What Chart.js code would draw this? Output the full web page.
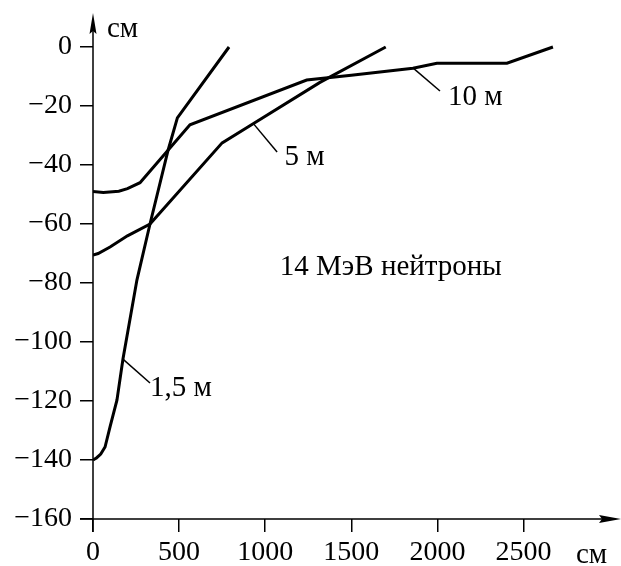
<!DOCTYPE html>
<html>
<head>
<meta charset="utf-8">
<script src="https://cdn.jsdelivr.net/npm/chart.js@4.4.1/dist/chart.umd.min.js"></script>
<style>
  body { margin: 0; background: #fff; }
  #wrap { width: 621px; height: 566px; position: relative; }
</style>
</head>
<body>
<div id="wrap"><canvas id="c"></canvas></div>
<script>
// глубина (см) в зависимости от расстояния (см)
const x15 = [0, 20, 45, 70, 100, 139, 174, 255, 331, 436, 490, 790];
const y15 = [-140, -139.3, -138, -135.6, -128.5, -119.7, -105.8, -79, -60, -35, -24, 0];

const x5 = [0, 30, 99, 200, 331, 750, 930, 1318, 1700];
const y5 = [-70.5, -70, -67.8, -64, -60, -32.5, -26, -12, 0];

const x10 = [0, 60, 150, 200, 273, 563, 1241, 1500, 1858, 1997, 2404, 2671];
const y10 = [-49, -49.3, -48.9, -48, -46, -26.4, -11.2, -9.6, -7.2, -5.5, -5.5, 0];

const xTicks = [0, 500, 1000, 1500, 2000, 2500];
const yTicks = [-160, -140, -120, -100, -80, -60, -40, -20, 0];

// подписи кривых: точка на кривой, конец выноски, место текста
const curveNotes = [
  { text: "1,5 м", from: [174, -105.8], to: [331, -113.9], at: [331, -118.2] },
  { text: "5 м", from: [929, -25.8], to: [1069, -35.6], at: [1112, -40.1] },
  { text: "10 м", from: [1858, -7.1], to: [2015, -14.9], at: [2062, -19.7] }
];
const caption = { text: "14 МэВ нейтроны", at: [1085, -77.3] };

const FONT = "29px 'Liberation Serif', 'Times New Roman', serif";
const TICK_FONT = { family: "'Liberation Serif', serif", size: 28 };

function pts(xs, ys) {
  return xs.map((x, i) => ({ x: x, y: ys[i] }));
}

function curve(xs, ys) {
  return {
    data: pts(xs, ys),
    borderColor: "#000",
    borderWidth: 3,
    pointRadius: 0,
    tension: 0,
    showLine: true,
    fill: false
  };
}

const overlay = {
  id: "overlay",
  afterDraw(chart) {
    const { ctx, chartArea: a, scales } = chart;
    const sx = scales.x, sy = scales.y;
    ctx.save();
    ctx.strokeStyle = "#000";
    ctx.fillStyle = "#000";
    ctx.lineWidth = 1.5;

    // оси со стрелками
    ctx.beginPath();
    ctx.moveTo(a.left, a.bottom + 13);
    ctx.lineTo(a.left, 30);
    ctx.moveTo(a.left - 13, a.bottom);
    ctx.lineTo(603, a.bottom);
    ctx.stroke();

    ctx.beginPath();
    ctx.moveTo(a.left, 13);
    ctx.lineTo(a.left - 3.5, 34);
    ctx.lineTo(a.left, 31);
    ctx.lineTo(a.left + 3.5, 34);
    ctx.closePath();
    ctx.fill();

    ctx.beginPath();
    ctx.moveTo(621, a.bottom);
    ctx.lineTo(599, a.bottom - 4);
    ctx.lineTo(602, a.bottom);
    ctx.lineTo(599, a.bottom + 4);
    ctx.closePath();
    ctx.fill();

    ctx.font = FONT;
    ctx.textBaseline = "alphabetic";
    ctx.textAlign = "left";
    ctx.fillText("см", 107, 37);
    ctx.fillText("см", 576, 563);

    // выноски
    ctx.lineWidth = 1.5;
    curveNotes.forEach(n => {
      ctx.beginPath();
      ctx.moveTo(sx.getPixelForValue(n.from[0]), sy.getPixelForValue(n.from[1]));
      ctx.lineTo(sx.getPixelForValue(n.to[0]), sy.getPixelForValue(n.to[1]));
      ctx.stroke();
      ctx.fillText(n.text, sx.getPixelForValue(n.at[0]), sy.getPixelForValue(n.at[1]));
    });
    ctx.fillText(caption.text, sx.getPixelForValue(caption.at[0]), sy.getPixelForValue(caption.at[1]));
    ctx.restore();
  }
};

const minus = v => (v < 0 ? "\u2212" + Math.abs(v) : String(v));

new Chart(document.getElementById("c"), {
  type: "scatter",
  data: {
    datasets: [curve(x15, y15), curve(x5, y5), curve(x10, y10)]
  },
  options: {
    responsive: true,
    maintainAspectRatio: false,
    animation: false,
    layout: { padding: { top: 14.55, right: 11.4, bottom: 0, left: 0 } },
    plugins: { legend: { display: false }, tooltip: { enabled: false } },
    scales: {
      x: {
        type: "linear",
        min: 0,
        max: 3000,
        afterFit: s => { s.height = 47; s.paddingLeft = 0; s.paddingRight = 0; },
        afterBuildTicks: s => { s.ticks = xTicks.map(v => ({ value: v })); },
        border: { display: false },
        grid: { drawOnChartArea: false, drawTicks: true, tickLength: 13, color: "#000", lineWidth: 1.5 },
        ticks: { color: "#000", padding: 4, maxRotation: 0, callback: v => String(v), font: TICK_FONT }
      },
      y: {
        type: "linear",
        min: -160,
        max: 11,
        afterFit: s => { s.width = 93; s.paddingTop = 0; s.paddingBottom = 0; },
        afterBuildTicks: s => { s.ticks = yTicks.map(v => ({ value: v })); },
        border: { display: false },
        grid: { drawOnChartArea: false, drawTicks: true, tickLength: 13, color: "#000", lineWidth: 1.5 },
        ticks: { color: "#000", padding: 8, callback: minus, font: TICK_FONT }
      }
    }
  },
  plugins: [overlay]
});
</script>
</body>
</html>
